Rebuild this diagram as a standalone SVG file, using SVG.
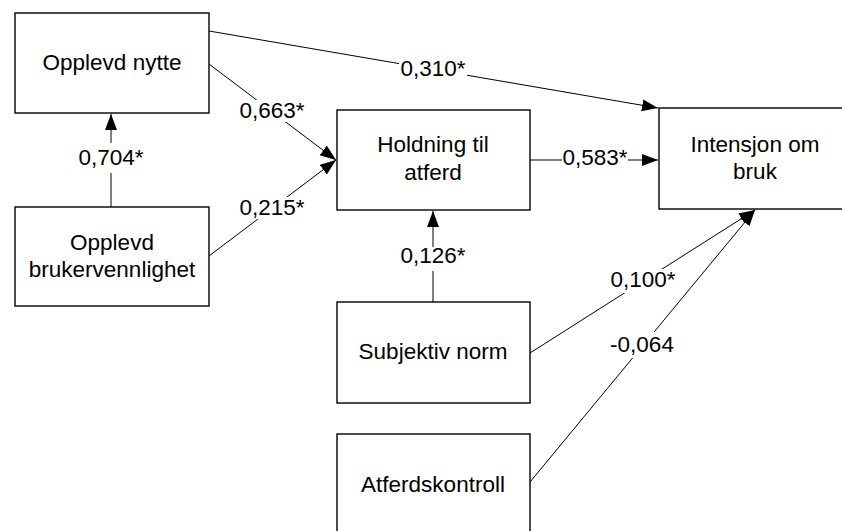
<svg xmlns="http://www.w3.org/2000/svg" width="842" height="531" viewBox="0 0 842 531">
  <style>
    .box { fill: #fff; stroke: #000; stroke-width: 1.4; }
    .txt { font-family: "Liberation Sans", Arial, sans-serif; font-size: 22.5px; fill: #000; text-anchor: middle; }
    .edge { stroke: #000; stroke-width: 1; fill: none; marker-end: url(#arrow); }
    .bg { fill: #fff; stroke: none; }
  </style>
  <defs>
    <marker id="arrow" markerUnits="userSpaceOnUse" markerWidth="17" markerHeight="13" refX="16" refY="6" orient="auto">
      <path d="M0,0 L16,6 L0,12 z" fill="#000"/>
    </marker>
  </defs>
  <rect width="842" height="531" fill="#fff"/>

  <!-- connectors with their coefficient labels -->
  <g id="connectors">
    <line class="edge" x1="209" y1="31" x2="658" y2="108"/>
    <line class="edge" x1="209" y1="64" x2="336" y2="160"/>
    <line class="edge" x1="209" y1="256" x2="336" y2="160"/>
    <line class="edge" x1="111" y1="207" x2="111" y2="114"/>
    <line class="edge" x1="530" y1="160" x2="658" y2="160"/>
    <line class="edge" x1="433" y1="302" x2="433" y2="211"/>
    <line class="edge" x1="530" y1="353" x2="755" y2="210"/>
    <line class="edge" x1="530" y1="482" x2="755" y2="210"/>

    <rect class="bg" x="399" y="58" width="68" height="22"/>
    <text class="txt" x="433" y="76">0,310*</text>
    <rect class="bg" x="238" y="100" width="68" height="22"/>
    <text class="txt" x="272" y="118">0,663*</text>
    <rect class="bg" x="238" y="197" width="68" height="22"/>
    <text class="txt" x="272" y="215">0,215*</text>
    <rect class="bg" x="77" y="143" width="68" height="30"/>
    <text class="txt" x="111" y="165">0,704*</text>
    <rect class="bg" x="562" y="147" width="66" height="22"/>
    <text class="txt" x="595" y="165">0,583*</text>
    <rect class="bg" x="399" y="247" width="68" height="24"/>
    <text class="txt" x="433" y="263">0,126*</text>
    <rect class="bg" x="608" y="269" width="70" height="24"/>
    <text class="txt" x="643" y="287">0,100*</text>
    <rect class="bg" x="607" y="332" width="70" height="26"/>
    <text class="txt" x="642" y="352">-0,064</text>
  </g>

  <g id="opplevd-nytte">
    <rect class="box" x="15" y="13" width="194" height="100"/>
    <text class="txt" x="112" y="70">Opplevd nytte</text>
  </g>

  <g id="opplevd-brukervennlighet">
    <rect class="box" x="15" y="207" width="194" height="99"/>
    <text class="txt" x="112" y="250">Opplevd</text>
    <text class="txt" x="112" y="277">brukervennlighet</text>
  </g>

  <g id="holdning-til-atferd">
    <rect class="box" x="337" y="110" width="193" height="100"/>
    <text class="txt" x="433" y="152">Holdning til</text>
    <text class="txt" x="433" y="180">atferd</text>
  </g>

  <g id="intensjon-om-bruk">
    <rect class="box" x="659" y="108" width="193" height="101"/>
    <text class="txt" x="755" y="152">Intensjon om</text>
    <text class="txt" x="755" y="179">bruk</text>
  </g>

  <g id="subjektiv-norm">
    <rect class="box" x="337" y="302" width="193" height="101"/>
    <text class="txt" x="433" y="359">Subjektiv norm</text>
  </g>

  <g id="atferdskontroll">
    <rect class="box" x="337" y="434" width="193" height="102"/>
    <text class="txt" x="433" y="492">Atferdskontroll</text>
  </g>
</svg>
